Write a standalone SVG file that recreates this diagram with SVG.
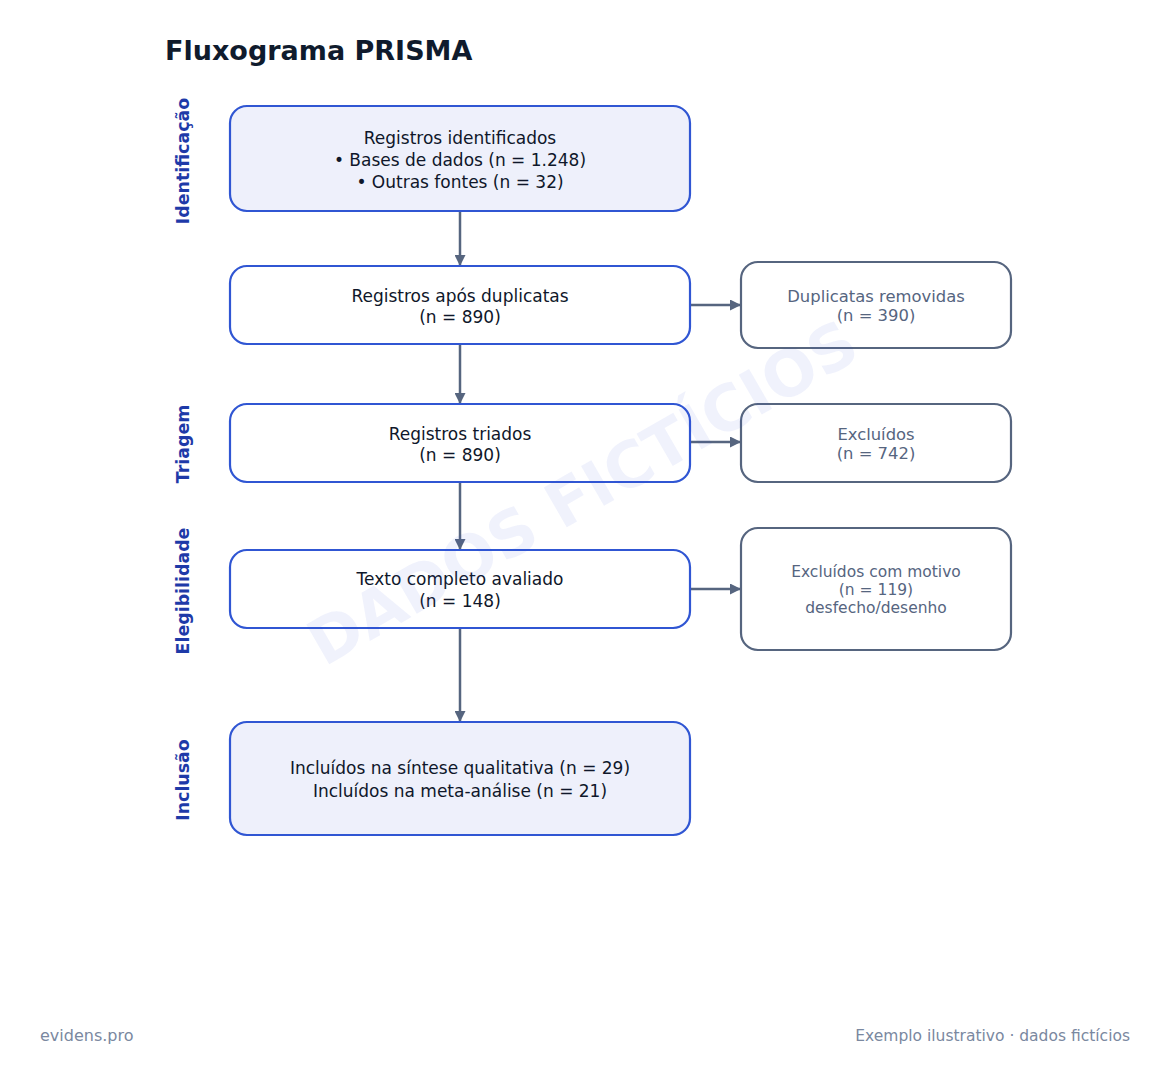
<svg xmlns="http://www.w3.org/2000/svg" width="1169" height="1082" viewBox="0 0 1169 1082">
<defs>
<style>
.t{font-family:"DejaVu Sans",sans-serif}
.main{font-size:17px;fill:#0f172a;text-anchor:middle}
.side{font-size:16.4px;fill:#56657f;text-anchor:middle}
.side3{font-size:15.5px;fill:#56657f;text-anchor:middle}
.lab{font-size:17.4px;font-weight:bold;fill:#1e3aa8;text-anchor:middle}
.nb{fill:#ffffff;stroke:#3056d3;stroke-width:2.2}
.nf{fill:#eef0fb;stroke:#3056d3;stroke-width:2.2}
.sb{fill:#ffffff;stroke:#56657f;stroke-width:2.2}
.c{stroke:#56657f;stroke-width:2.5;fill:none}
.foot{fill:#7a88a0}
</style>
<marker id="ah" viewBox="0 0 10 10" refX="10" refY="5" markerWidth="4.4" markerHeight="4.4" orient="auto" markerUnits="strokeWidth">
<path d="M0,0 L10,5 L0,10 z" fill="#56657f"/>
</marker>
</defs>
<rect width="1169" height="1082" fill="#ffffff"/>
<text class="t" x="165" y="60" font-size="27" font-weight="bold" fill="#0f1b2d">Fluxograma PRISMA</text>
<g id="labels">
<text class="t lab" transform="translate(189 161) rotate(-90)">Identificação</text>
<text class="t lab" transform="translate(189 444) rotate(-90)">Triagem</text>
<text class="t lab" transform="translate(189 591) rotate(-90)">Elegibilidade</text>
<text class="t lab" transform="translate(189 780) rotate(-90)">Inclusão</text>
</g>
<g id="connectors">
<line class="c" x1="460" y1="211" x2="460" y2="266" marker-end="url(#ah)"/>
<line class="c" x1="460" y1="344" x2="460" y2="404" marker-end="url(#ah)"/>
<line class="c" x1="460" y1="482" x2="460" y2="550" marker-end="url(#ah)"/>
<line class="c" x1="460" y1="628" x2="460" y2="722" marker-end="url(#ah)"/>
<line class="c" x1="690" y1="305" x2="741" y2="305" marker-end="url(#ah)"/>
<line class="c" x1="690" y1="442" x2="741" y2="442" marker-end="url(#ah)"/>
<line class="c" x1="690" y1="589" x2="741" y2="589" marker-end="url(#ah)"/>
</g>
<g id="n1">
<rect class="nf" x="230" y="106" width="460" height="105" rx="17"/>
<text class="t main" x="460" y="144">Registros identificados</text>
<text class="t main" x="460" y="166">• Bases de dados (n = 1.248)</text>
<text class="t main" x="460" y="188">• Outras fontes (n = 32)</text>
</g>
<g id="n2">
<rect class="nb" x="230" y="266" width="460" height="78" rx="17"/>
<text class="t main" x="460" y="302">Registros após duplicatas</text>
<text class="t main" x="460" y="323">(n = 890)</text>
</g>
<g id="n3">
<rect class="nb" x="230" y="404" width="460" height="78" rx="17"/>
<text class="t main" x="460" y="440">Registros triados</text>
<text class="t main" x="460" y="461">(n = 890)</text>
</g>
<g id="n4">
<rect class="nb" x="230" y="550" width="460" height="78" rx="17"/>
<text class="t main" x="460" y="585">Texto completo avaliado</text>
<text class="t main" x="460" y="607">(n = 148)</text>
</g>
<g id="n5">
<rect class="nf" x="230" y="722" width="460" height="113" rx="17"/>
<text class="t main" x="460" y="774">Incluídos na síntese qualitativa (n = 29)</text>
<text class="t main" x="460" y="797">Incluídos na meta-análise (n = 21)</text>
</g>
<g id="s1">
<rect class="sb" x="741" y="262" width="270" height="86" rx="17"/>
<text class="t side" x="876" y="302">Duplicatas removidas</text>
<text class="t side" x="876" y="321">(n = 390)</text>
</g>
<g id="s2">
<rect class="sb" x="741" y="404" width="270" height="78" rx="17"/>
<text class="t side" x="876" y="440">Excluídos</text>
<text class="t side" x="876" y="459">(n = 742)</text>
</g>
<g id="s3">
<rect class="sb" x="741" y="528" width="270" height="122" rx="17"/>
<text class="t side3" x="876" y="577">Excluídos com motivo</text>
<text class="t side3" x="876" y="595">(n = 119)</text>
<text class="t side3" x="876" y="613">desfecho/desenho</text>
</g>
<text class="t" x="585" y="497" transform="rotate(-30 585 497)" font-size="63" font-weight="bold" fill="#3056d3" fill-opacity="0.075" text-anchor="middle" dominant-baseline="middle">DADOS FICTÍCIOS</text>
<text class="t foot" x="40" y="1041" font-size="16">evidens.pro</text>
<text class="t foot" x="1130" y="1041" font-size="15.5" text-anchor="end">Exemplo ilustrativo · dados fictícios</text>
</svg>
